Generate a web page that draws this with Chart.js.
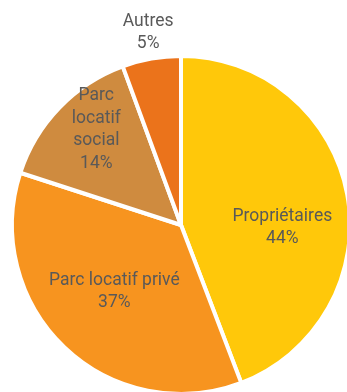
<!DOCTYPE html>
<html><head><meta charset="utf-8">
<script src="https://cdn.jsdelivr.net/npm/chart.js@4"></script>
<style>html,body{margin:0;padding:0;background:#fff;overflow:hidden;width:347px;height:392px}
#wrap{position:absolute;left:0;top:0;width:347px;height:450px}</style>
</head><body>
<div id="wrap"><canvas id="c"></canvas></div>
<script>
const categories = ["Propriétaires", "Parc locatif privé", "Parc locatif social", "Autres"];
// slice sizes as drawn in the picture (labels show rounded shares)
const shares = [44.2, 35.8, 14.4, 5.6];
const labelLines = [["Propriétaires", "44%"], ["Parc locatif privé", "37%"], ["Parc", "locatif", "social", "14%"], ["Autres", "5%"]];
const colors = ["#FFC80A", "#F7941F", "#CF8B3F", "#EB731B"];

// label placement: radius factor and angle offset (deg) per slice
const labelPlace = [{r: 0.60, a: 12}, {r: 0.557, a: 1.5}, {r: 0.755, a: 4.5}, {r: 1.155, a: 0.4}];

const labelPlugin = {
  id: 'sliceLabels',
  afterDatasetsDraw(chart) {
    const ctx = chart.ctx;
    const meta = chart.getDatasetMeta(0);
    ctx.save();
    ctx.font = '400 17.5px Roboto, "DejaVu Sans", sans-serif';
    ctx.fillStyle = '#595959';
    ctx.textAlign = 'center';
    ctx.textBaseline = 'middle';
    meta.data.forEach((arc, i) => {
      const p = arc.getProps(['x', 'y', 'startAngle', 'endAngle', 'outerRadius'], true);
      const mid = (p.startAngle + p.endAngle) / 2 + labelPlace[i].a * Math.PI / 180;
      const r = p.outerRadius * labelPlace[i].r;
      const cx = p.x + Math.cos(mid) * r;
      const cy = p.y + Math.sin(mid) * r;
      const lines = labelLines[i];
      const lh = 22.5;
      lines.forEach((t, k) => {
        ctx.fillText(t, cx, cy + (k - (lines.length - 1) / 2) * lh);
      });
    });
    ctx.restore();
  }
};

new Chart(document.getElementById('c'), {
  type: 'pie',
  data: {
    labels: categories,
    datasets: [{
      data: shares,
      backgroundColor: colors,
      borderColor: '#ffffff',
      borderWidth: 4
    }]
  },
  options: {
    responsive: true,
    maintainAspectRatio: false,
    animation: false,
    radius: 169,
    layout: {padding: {left: 15, right: 0, top: 0, bottom: 0}},
    plugins: {legend: {display: false}, tooltip: {enabled: false}}
  },
  plugins: [labelPlugin]
});
</script>
</body></html>
